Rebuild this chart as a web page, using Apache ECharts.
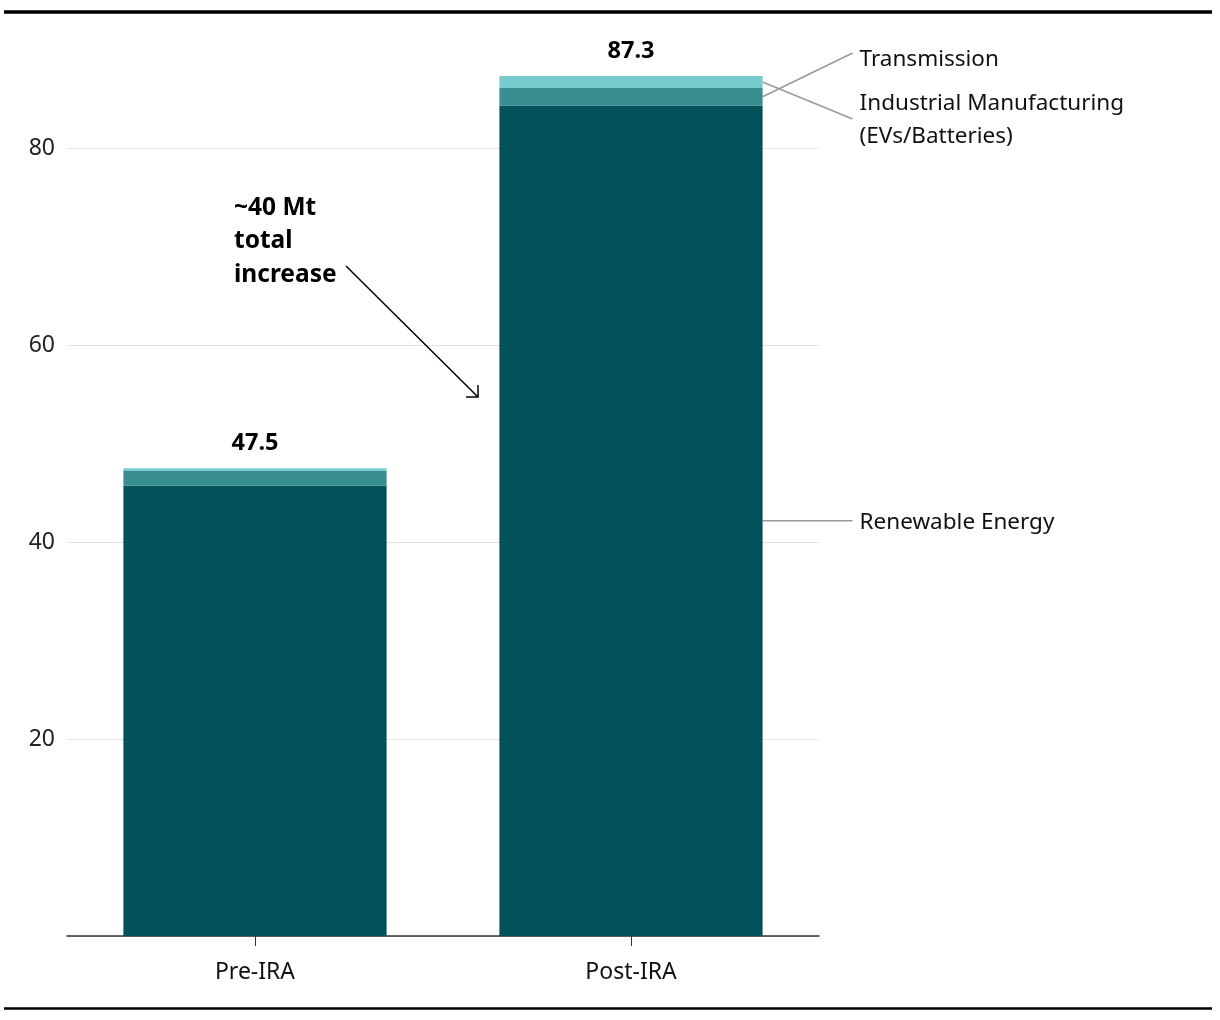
<!DOCTYPE html>
<html>
<head>
<meta charset="utf-8">
<script src="https://cdn.jsdelivr.net/npm/echarts@6/dist/echarts.min.js"></script>
<style>
html,body{margin:0;padding:0;background:#fff;}
#chart{width:1220px;height:1020px;}
</style>
</head>
<body>
<div id="chart"></div>
<script>
// ---- data ----
const categories = ['Pre-IRA', 'Post-IRA'];
const renewable = [45.7, 84.3];
const industrial = [1.5, 1.8];
const transmission = [0.3, 1.2];
const seriesNames = ['Renewable Energy', 'Industrial Manufacturing (EVs/Batteries)', 'Transmission'];
const yTicks = [0, 20, 40, 60, 80];

const colors = ['#03525A', '#388D90', '#76CBCF'];
const FONT = '"Noto Sans", Lato, sans-serif';

const totals = categories.map((c, i) => renewable[i] + industrial[i] + transmission[i]);

const chart = echarts.init(document.getElementById('chart'), null, {renderer: 'canvas'});

const option = {
  animation: false,
  backgroundColor: '#fff',
  textStyle: {fontFamily: FONT},
  grid: {left: 67, right: 401, top: 148, bottom: 84, containLabel: false},
  xAxis: {
    type: 'category',
    data: categories,
    axisLine: {lineStyle: {color: '#333', width: 1.5}},
    axisTick: {show: true, alignWithLabel: true, length: 10, lineStyle: {color: '#333', width: 1}},
    axisLabel: {fontFamily: FONT, fontSize: 23, color: '#111', margin: 25}
  },
  yAxis: {
    type: 'value',
    min: yTicks[0],
    max: yTicks[yTicks.length - 1],
    interval: 20,
    axisLine: {show: false},
    axisTick: {show: false},
    splitLine: {lineStyle: {color: '#e2e2e2', width: 1}},
    axisLabel: {fontFamily: FONT, fontSize: 23, color: '#222', margin: 12,
      formatter: v => (v === 0 ? '' : String(v))}
  },
  series: [
    {name: seriesNames[0], type: 'bar', stack: 'total', data: renewable, barWidth: '70%', clip: false,
      itemStyle: {color: colors[0]}},
    {name: seriesNames[1], type: 'bar', stack: 'total', data: industrial, barWidth: '70%', clip: false,
      itemStyle: {color: colors[1]}},
    {name: seriesNames[2], type: 'bar', stack: 'total', data: transmission, barWidth: '70%', clip: false,
      itemStyle: {color: colors[2]},
      label: {show: true, position: 'top', distance: 13, fontFamily: FONT, fontSize: 23.5, fontWeight: 'bold', color: '#000',
        formatter: p => totals[p.dataIndex].toFixed(1)}}
  ]
};
chart.setOption(option);

// ---- annotations computed via the chart scales ----
const px = (ci, v) => chart.convertToPixel({xAxisIndex: 0, yAxisIndex: 0}, [ci, v]);
const c0 = px(0, 0), c1 = px(1, 0);
const band = c1[0] - c0[0];
const barRight = c1[0] + band * 0.35;
const yRenMid = px(1, renewable[1] / 2)[1];
const yIndMid = px(1, renewable[1] + industrial[1] / 2)[1];
const yTrMid = px(1, renewable[1] + industrial[1] + transmission[1] / 2)[1];
const lineEndX = barRight + 90;
const textX = barRight + 97;
const lineStyle = {stroke: '#999', lineWidth: 1.5};
const LBL = '22.5px ' + FONT;
const BLD = 'bold 24.5px ' + FONT;

const graphics = [
  // top & bottom rules
  {type: 'line', shape: {x1: 4, y1: 12, x2: 1212, y2: 12}, style: {stroke: '#000', lineWidth: 3.5}},
  {type: 'line', shape: {x1: 4, y1: 1008.5, x2: 1212, y2: 1008.5}, style: {stroke: '#000', lineWidth: 2.5}},
  // leader lines (as drawn in reference)
  {type: 'line', shape: {x1: barRight, y1: yIndMid, x2: lineEndX, y2: 53}, style: lineStyle},
  {type: 'line', shape: {x1: barRight, y1: yTrMid, x2: lineEndX, y2: 119}, style: lineStyle},
  {type: 'line', shape: {x1: barRight, y1: yRenMid, x2: lineEndX, y2: yRenMid}, style: lineStyle},
  // series labels
  {type: 'text', x: textX, y: 60, style: {text: 'Transmission', font: LBL, fill: '#111', textVerticalAlign: 'middle'}},
  {type: 'text', x: textX, y: 104, style: {text: 'Industrial Manufacturing', font: LBL, fill: '#111', textVerticalAlign: 'middle'}},
  {type: 'text', x: textX, y: 137, style: {text: '(EVs/Batteries)', font: LBL, fill: '#111', textVerticalAlign: 'middle'}},
  {type: 'text', x: textX, y: yRenMid + 2, style: {text: 'Renewable Energy', font: LBL, fill: '#111', textVerticalAlign: 'middle'}},
  // increase annotation
  {type: 'text', x: 234, y: 208, style: {text: '~40 Mt', font: BLD, fill: '#000', textVerticalAlign: 'middle'}},
  {type: 'text', x: 234, y: 241, style: {text: 'total', font: BLD, fill: '#000', textVerticalAlign: 'middle'}},
  {type: 'text', x: 234, y: 275, style: {text: 'increase', font: BLD, fill: '#000', textVerticalAlign: 'middle'}},
  {type: 'line', shape: {x1: 346, y1: 266, x2: 478, y2: 397}, style: {stroke: '#000', lineWidth: 1.5}},
  {type: 'polyline', shape: {points: [[478, 385], [478, 397], [466, 397]]}, style: {stroke: '#000', lineWidth: 1.5, fill: null}}
];
chart.setOption({graphic: graphics});
</script>
</body>
</html>
